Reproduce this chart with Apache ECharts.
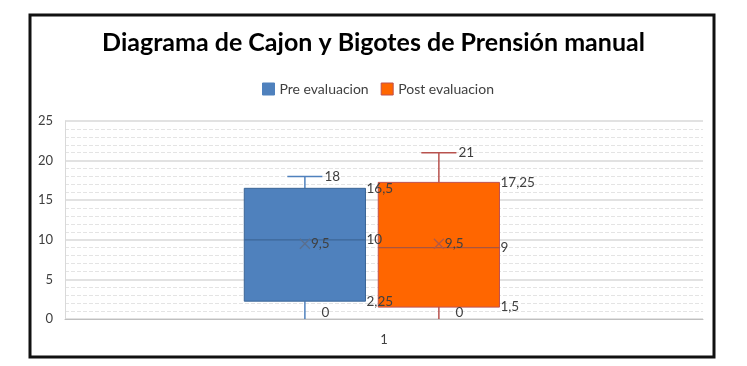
<!DOCTYPE html>
<html>
<head>
<meta charset="utf-8">
<script src="https://cdn.jsdelivr.net/npm/echarts@6/dist/echarts.min.js"></script>
<style>
  html, body { margin: 0; padding: 0; background: #fff; }
  #main { width: 747px; height: 366px; }
</style>
</head>
<body>
<div id="main"></div>
<script>
// datos del grafico
var categories = ['1'];
var seriesNames = ['Pre evaluacion', 'Post evaluacion'];
// min, Q1, mediana, Q3, max
var preValues = [0, 2.25, 10, 16.5, 18];
var postValues = [0, 1.5, 9, 17.25, 21];
var preMean = 9.5;
var postMean = 9.5;
var yTicks = [0, 5, 10, 15, 20, 25];

var font = 'Lato, "Open Sans", sans-serif';

function fmt(v) {
	return String(v).replace('.', ',');
}

function makeBox(offset, fill, border, whisker, mid, mark) {
	return function(params, api) {
		var c = api.value(0);
		var band = api.size([1, 0])[0];
		var cx = api.coord([c, 0])[0] + band * offset;
		var w = band * 0.19;
		var cap = band * 0.055;
		var vals = [];
		var ys = [];
		for (var i = 1; i <= 6; i++) {
			vals.push(api.value(i));
			ys.push(api.coord([c, api.value(i)])[1]);
		}
		var yMin = ys[0], yQ1 = ys[1], yMed = ys[2], yQ3 = ys[3], yMax = ys[4], yMean = ys[5];
		var left = cx - w / 2, right = cx + w / 2;
		var lineStyle = { stroke: whisker, lineWidth: 1.5 };
		// las etiquetas van por encima de la otra caja
		function label(txt, x, y) {
			return {
				type: 'text',
				z2: 100,
				style: { text: txt, x: x, y: y, fill: '#404040', font: '13.5px ' + font, align: 'left', verticalAlign: 'middle' }
			};
		}
		var children = [
			// bigotes
			{ type: 'line', shape: { x1: cx, y1: yQ3, x2: cx, y2: yMax }, style: lineStyle },
			{ type: 'line', shape: { x1: cx - cap / 2, y1: yMax, x2: cx + cap / 2, y2: yMax }, style: lineStyle },
			{ type: 'line', shape: { x1: cx, y1: yQ1, x2: cx, y2: yMin }, style: lineStyle },
			// caja
			{ type: 'rect', shape: { x: left, y: yQ3, width: w, height: yQ1 - yQ3 }, style: { fill: fill, stroke: border, lineWidth: 1 } },
			{ type: 'line', shape: { x1: left, y1: yMed, x2: right, y2: yMed }, style: { stroke: mid, lineWidth: 1.2 } },
			// media
			{ type: 'line', shape: { x1: cx - 5, y1: yMean - 5, x2: cx + 5, y2: yMean + 5 }, style: { stroke: mark, lineWidth: 1.3 } },
			{ type: 'line', shape: { x1: cx - 5, y1: yMean + 5, x2: cx + 5, y2: yMean - 5 }, style: { stroke: mark, lineWidth: 1.3 } },
			// etiquetas
			label(fmt(vals[4]), cx + cap / 2 + 2, yMax),
			label(fmt(vals[3]), right + 1, yQ3),
			label(fmt(vals[2]), right + 1, yMed),
			label(fmt(vals[1]), right + 1, yQ1),
			label(fmt(vals[0]), cx + cap / 2 - 1, yMin - 6),
			label(fmt(vals[5]), cx + 6, yMean)
		];
		return { type: 'group', children: children };
	};
}

var myChart = echarts.init(document.getElementById('main'));

var option = {
	backgroundColor: '#fff',
	animation: false,
	title: {
		text: 'Diagrama de Cajon y Bigotes de Prensión manual',
		left: 'center',
		top: 25,
		textStyle: { fontFamily: font, fontWeight: 'bold', fontSize: 25, color: '#000' }
	},
	legend: {
		left: 257,
		top: 77,
		itemWidth: 12,
		itemHeight: 12,
		itemGap: 12,
		textStyle: { fontFamily: font, fontSize: 14, color: '#404040' },
		data: [
			{ name: seriesNames[0], icon: 'rect', itemStyle: { color: '#4f81bd', borderColor: '#4f81bd', borderWidth: 1 } },
			{ name: seriesNames[1], icon: 'rect', itemStyle: { color: '#ff6600', borderColor: '#c0504d', borderWidth: 1 } }
		]
	},
	graphic: [{
		type: 'rect',
		shape: { x: 30, y: 15, width: 684, height: 342 },
		style: { fill: null, stroke: '#111', lineWidth: 3 },
		z: 100
	}],
	grid: { left: 65, right: 44, top: 121, bottom: 47 },
	xAxis: {
		type: 'category',
		data: categories,
		axisTick: { show: false },
		axisLine: { lineStyle: { color: '#bfbfbf' } },
		axisLabel: { color: '#404040', fontFamily: font, fontSize: 13, margin: 14 }
	},
	yAxis: {
		type: 'value',
		min: yTicks[0],
		max: yTicks[yTicks.length - 1],
		interval: 5,
		axisLine: { show: true, lineStyle: { color: '#d9d9d9' } },
		axisTick: { show: false },
		axisLabel: { color: '#404040', fontFamily: font, fontSize: 13, margin: 12 },
		splitLine: { lineStyle: { color: '#d9d9d9', width: 1.5 } },
		minorTick: { show: false, splitNumber: 5 },
		minorSplitLine: { show: true, lineStyle: { color: '#e4e4e4', type: 'dashed' } }
	},
	series: [
		{
			name: seriesNames[0],
			type: 'custom',
			itemStyle: { color: '#4f81bd' },
			renderItem: makeBox(-0.124, '#4f81bd', '#3a6596', '#4f81bd', '#3d6798', '#5a6f8e'),
			encode: { x: 0, y: [1, 2, 3, 4, 5, 6] },
			data: [[0].concat(preValues, [preMean])]
		},
		{
			name: seriesNames[1],
			type: 'custom',
			itemStyle: { color: '#ff6600' },
			renderItem: makeBox(0.086, '#ff6600', '#c0504d', '#b8524e', '#a9553f', '#b35a45'),
			encode: { x: 0, y: [1, 2, 3, 4, 5, 6] },
			data: [[0].concat(postValues, [postMean])]
		}
	]
};

myChart.setOption(option);
</script>
</body>
</html>
